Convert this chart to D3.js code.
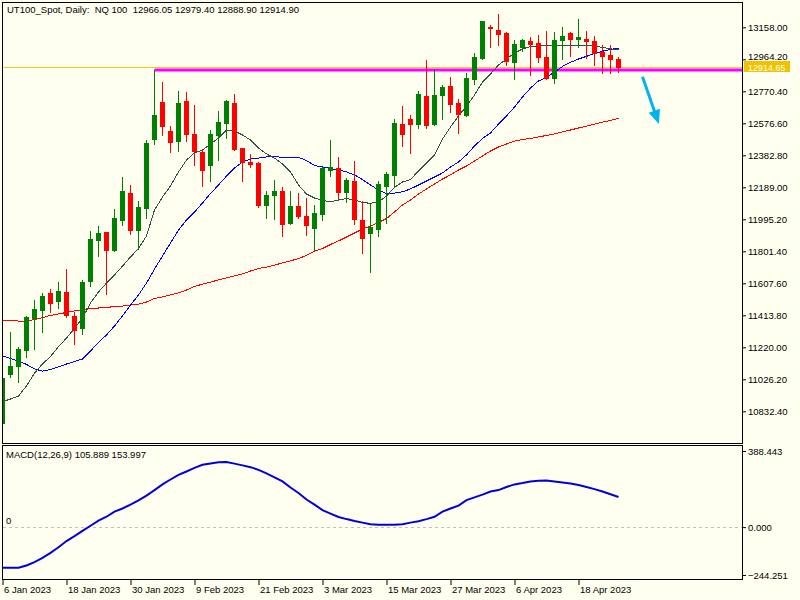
<!DOCTYPE html>
<html>
<head>
<meta charset="utf-8">
<script src="https://cdn.jsdelivr.net/npm/d3@7"></script>
<style>
body { margin: 0; background: #fffff0; }
svg { display: block; font-family: "Liberation Sans", Arial, sans-serif; }
</style>
</head>
<body>
<svg width="800" height="600"></svg>
<script>
// daily bars, 6 Jan 2023 .. 25 Apr 2023
var opens = [10760,11058,11107,11204,11397,11446,11551,11502,11555,11410,
    11337,11622,11870,11918,11809,11991,12154,11930,12065,12482,
    12706,12532,12469,12712,12512,12405,12324,12506,12580,12700,
    12427,12344,12338,12082,12142,12167,11971,12078,12017,11944,
    12029,12294,12306,12162,12227,11991,11914,11938,12197,12264,
    12572,12604,12572,12742,12572,12748,12803,12698,12627,12845,
    12970,13162,13142,13123,12948,13041,13073,13061,12978,12851,
    13081,13122,13089,13087,13073,13010,12990,12966.05];
var highs = [11046,11314,11220,11410,11506,11551,11573,11615,11696,11436,
    11628,11924,11956,11920,12058,12253,12203,12108,12475,12899,
    12827,12558,12772,12766,12689,12419,12536,12651,12720,12756,
    12430,12391,12344,12167,12233,12193,12167,12153,12126,12082,
    12310,12475,12374,12247,12348,12106,12092,12227,12280,12603,
    12681,12627,12774,12960,12904,12809,12855,12722,12883,13004,
    13198,13174,13239,13128,13081,13089,13101,13111,13137,13128,
    13158,13128,13208,13134,13105,13053,13051,12979.40];
var lows = [10743,11042,11012,11163,11212,11314,11434,11458,11402,11240,
    11300,11593,11773,11543,11805,11962,11906,11817,12003,12453,
    12506,12403,12411,12469,12324,12197,12229,12354,12489,12415,
    12229,12314,12068,12005,11999,11896,11967,12001,11900,11814,
    11991,12259,12126,12102,11969,11793,11678,11896,11971,12193,
    12439,12399,12550,12550,12566,12603,12647,12516,12621,12815,
    12968,13041,13053,12930,12847,13013,12867,12950,12847,12822,
    12964,12984,13041,12970,12930,12883,12883,12888.90];
var closes = [11032,11107,11212,11405,11454,11531,11490,11563,11417,11325,
    11615,11876,11912,11809,12003,12167,11930,12070,12457,12627,
    12560,12463,12701,12512,12411,12294,12512,12584,12713,12419,
    12344,12330,12082,12142,12167,11967,12078,12015,11961,12035,
    12308,12312,12162,12233,11997,11884,11950,12209,12270,12580,
    12512,12572,12754,12566,12748,12798,12693,12633,12851,12980,
    13196,13152,13119,12956,13059,13079,13059,12980,12851,13081,
    13105,13089,13099,13075,13004,12986,12966,12914.90];

// moving averages
var maFast = [10890,10907,10925,10986,11064,11119,11164,11224,11276,11334,
    11397,11488,11555,11609,11658,11712,11767,11818,11894,12052,
    12130,12197,12282,12354,12397,12415,12451,12488,12536,12530,
    12506,12475,12427,12391,12366,12330,12282,12203,12148,12124,
    12109,12102,12112,12121,12112,12097,12092,12100,12136,12188,
    12221,12236,12288,12336,12385,12481,12554,12621,12681,12748,
    12827,12875,12930,12966,13002,13027,13042,13045,13045,13048,
    13051,13045,13045,13051,13045,13036,13028,13021];
var maMid = [11167,11152,11137,11116,11089,11076,11086,11101,11119,11134,
    11149,11198,11249,11295,11349,11410,11476,11537,11609,11694,
    11773,11852,11930,11991,12039,12094,12151,12203,12257,12306,
    12342,12360,12366,12373,12374,12371,12371,12371,12351,12321,
    12312,12303,12294,12282,12264,12236,12203,12173,12151,12154,
    12162,12179,12203,12227,12251,12276,12312,12342,12385,12439,
    12485,12518,12572,12621,12675,12736,12790,12833,12854,12887,
    12921,12946,12966,12982,12999,13013,13024,13031];
var maSlow = [11385,11382,11379,11379,11388,11400,11413,11422,11431,11440,
    11449,11456,11458,11462,11466,11470,11476,11482,11494,11516,
    11525,11537,11549,11567,11588,11603,11615,11628,11640,11652,
    11664,11682,11697,11706,11718,11731,11743,11758,11776,11803,
    11818,11843,11864,11888,11912,11936,11955,11976,12000,12039,
    12082,12112,12148,12179,12209,12239,12264,12294,12318,12348,
    12379,12409,12433,12451,12469,12479,12485,12494,12503,12512,
    12524,12536,12548,12560,12572,12584,12594,12606];

var macd = [-207,-207,-207,-196,-179,-157,-131,-103,-71,-46,
    -19,7,33,53,79,95,115,136,161,189,
    218,243,267,284,302,318,325,331,332,324,
    315,306,292,274,254,233,202,174,141,115,
    87,69,52,41,31,23,15,12,12,12,
    15,23,30,41,53,79,95,110,138,152,
    166,182,189,205,218,225,233,237,238,233,
    228,223,215,205,194,182,168,154.0];

var priceTicks = [13158.00,12964.20,12770.40,12576.60,12382.80,12189.00,11995.20,
    11801.40,11607.60,11413.80,11220.00,11026.20,10832.40];
var macdTicks = [388.443, 0, -244.251];
var dateLabels = ['6 Jan 2023','18 Jan 2023','30 Jan 2023','9 Feb 2023','21 Feb 2023',
    '3 Mar 2023','15 Mar 2023','27 Mar 2023','6 Apr 2023','18 Apr 2023'];
var dateStep = 8;

var bidPrice = 12914.65;
var levelPrice = 12899;
var levelFrom = 19;
var arrowFrom = [80, 12859];
var arrowTo = [82.05, 12572];

var svgctrl = d3.select('svg');
var fontSize = '9.5px';

var x = d3.scaleLinear().domain([0, 77]).range([2.5, 618.5]);
var y = d3.scaleLinear().domain([10832.4, 13158]).range([411.3, 27.3]);
var ym = d3.scaleLinear().domain([-244.251, 388.443]).range([575, 451]);

svgctrl.append('rect').attr('width', 800).attr('height', 600).attr('fill', '#fffff0');

var defs = svgctrl.append('defs');
defs.append('clipPath').attr('id', 'mainclip').append('rect')
    .attr('x', 3).attr('y', 3).attr('width', 739).attr('height', 440);
defs.append('clipPath').attr('id', 'macdclip').append('rect')
    .attr('x', 3).attr('y', 446).attr('width', 739).attr('height', 133);

var main = svgctrl.append('g').attr('clip-path', 'url(#mainclip)');

// bid line and support level
main.append('line').attr('x1', 3).attr('x2', 742)
    .attr('y1', Math.round(y(bidPrice)) + 0.5).attr('y2', Math.round(y(bidPrice)) + 0.5)
    .attr('stroke', '#f0c820').attr('stroke-width', 1);
main.append('line').attr('x1', x(levelFrom)).attr('x2', 742)
    .attr('y1', y(levelPrice)).attr('y2', y(levelPrice))
    .attr('stroke', '#ff00ff').attr('stroke-width', 3);

// moving averages
var maLine = d3.line().x(function (d, i) { return x(i); }).y(function (d) { return y(d); });
main.append('path').attr('d', maLine(maSlow)).attr('fill', 'none').attr('stroke', '#ff0000')
    .attr('stroke-width', 1).attr('shape-rendering', 'crispEdges');
main.append('path').attr('d', maLine(maMid)).attr('fill', 'none').attr('stroke', '#0000ff')
    .attr('stroke-width', 1).attr('shape-rendering', 'crispEdges');
main.append('path').attr('d', maLine(maFast)).attr('fill', 'none').attr('stroke', '#2f4f4f')
    .attr('stroke-width', 1).attr('shape-rendering', 'crispEdges');

// candles
var idx = d3.range(opens.length);
var candle = main.selectAll('g.candle').data(idx).enter().append('g').attr('class', 'candle')
    .attr('fill', function (i) { return closes[i] >= opens[i] ? '#008000' : '#ff0000'; })
    .attr('stroke', function (i) { return closes[i] >= opens[i] ? '#008000' : '#ff0000'; });
candle.append('line')
    .attr('x1', function (i) { return Math.floor(x(i)) + 0.5; })
    .attr('x2', function (i) { return Math.floor(x(i)) + 0.5; })
    .attr('y1', function (i) { return Math.round(y(highs[i])); })
    .attr('y2', function (i) { return Math.round(y(lows[i])) + 1; })
    .attr('stroke-width', 1).attr('shape-rendering', 'crispEdges');
candle.append('rect')
    .attr('x', function (i) { return Math.floor(x(i)) - 2; })
    .attr('y', function (i) { return Math.round(y(Math.max(opens[i], closes[i]))); })
    .attr('width', 5)
    .attr('height', function (i) {
        var t = Math.round(y(Math.max(opens[i], closes[i])));
        var b = Math.round(y(Math.min(opens[i], closes[i])));
        return Math.max(1, b - t + 1);
    })
    .attr('stroke', 'none').attr('shape-rendering', 'crispEdges');

// arrow
var ax1 = x(arrowFrom[0]), ay1 = y(arrowFrom[1]);
var ax2 = x(arrowTo[0]), ay2 = y(arrowTo[1]);
var len = Math.sqrt((ax2 - ax1) * (ax2 - ax1) + (ay2 - ay1) * (ay2 - ay1));
var ux = (ax2 - ax1) / len, uy = (ay2 - ay1) / len;
var bx = ax2 - 14 * ux, by = ay2 - 14 * uy;
main.append('line').attr('x1', ax1).attr('y1', ay1).attr('x2', bx + 2 * ux).attr('y2', by + 2 * uy)
    .attr('stroke', '#00b4f0').attr('stroke-width', 3);
main.append('polygon')
    .attr('points', [[ax2, ay2], [bx + 6 * uy, by - 6 * ux], [bx - 6 * uy, by + 6 * ux]].join(' '))
    .attr('fill', '#00b4f0');

// macd panel
var sub = svgctrl.append('g').attr('clip-path', 'url(#macdclip)');
sub.append('line').attr('x1', 3).attr('x2', 742)
    .attr('y1', Math.round(ym(0)) + 0.5).attr('y2', Math.round(ym(0)) + 0.5)
    .attr('stroke', '#c0c0c0').attr('stroke-dasharray', '3,3');
var macdLine = d3.line().x(function (d, i) { return x(i); }).y(function (d) { return ym(d); });
sub.append('path').attr('d', macdLine(macd)).attr('fill', 'none')
    .attr('stroke', '#0000dd').attr('stroke-width', 2);

// frames
svgctrl.append('rect').attr('x', 2.5).attr('y', 2.5).attr('width', 740).attr('height', 441)
    .attr('fill', 'none').attr('stroke', '#000');
svgctrl.append('rect').attr('x', 2.5).attr('y', 445.5).attr('width', 740).attr('height', 134)
    .attr('fill', 'none').attr('stroke', '#000');

// price axis
var pAxis = svgctrl.append('g').attr('transform', 'translate(742,0)')
    .call(d3.axisRight(y).tickValues(priceTicks).tickFormat(d3.format('.2f')).tickSize(4).tickPadding(2));
var mAxis = svgctrl.append('g').attr('transform', 'translate(742,0)')
    .call(d3.axisRight(ym).tickValues(macdTicks).tickFormat(d3.format('.3f')).tickSize(4).tickPadding(2));
var tAxis = svgctrl.append('g').attr('transform', 'translate(0,579)')
    .call(d3.axisBottom(x).tickValues(dateLabels.map(function (d, i) { return i * dateStep; }))
        .tickFormat(function (d) { return dateLabels[d / dateStep]; }).tickSize(6).tickPadding(1));
[pAxis, mAxis, tAxis].forEach(function (a) {
    a.select('.domain').remove();
    a.attr('font-family', null).attr('font-size', null);
    a.selectAll('text').attr('fill', '#000').attr('font-size', fontSize);
    a.selectAll('line').attr('stroke', '#000');
});
tAxis.selectAll('text').attr('text-anchor', 'start').attr('x', 1);

// keep the tick label just above the bid box clear of it
var by0 = Math.round(y(bidPrice));
pAxis.selectAll('.tick text').filter(function (d) { return Math.abs(y(d) - by0) < 12; })
    .attr('dy', '0.05em');

// bid price box
svgctrl.append('rect').attr('x', 744).attr('y', by0 - 6).attr('width', 46).attr('height', 11)
    .attr('fill', '#f2c200');
svgctrl.append('text').attr('x', 748).attr('y', by0 + 3.5).attr('fill', '#fff')
    .attr('font-size', '9px').text(d3.format('.2f')(bidPrice));

// titles
var last = opens.length - 1;
svgctrl.append('text').attr('x', 7).attr('y', 13).attr('font-size', fontSize).attr('fill', '#000')
    .attr('xml:space', 'preserve')
    .text('UT100_Spot, Daily:  NQ 100  ' + [opens[last], highs[last], lows[last], closes[last]]
        .map(d3.format('.2f')).join(' '));
svgctrl.append('text').attr('x', 6).attr('y', 458).attr('font-size', fontSize).attr('fill', '#000')
    .text('MACD(12,26,9) 105.889 153.997');
svgctrl.append('text').attr('x', 6).attr('y', ym(0) - 3).attr('font-size', fontSize).attr('fill', '#000')
    .text('0');
</script>
</body>
</html>
